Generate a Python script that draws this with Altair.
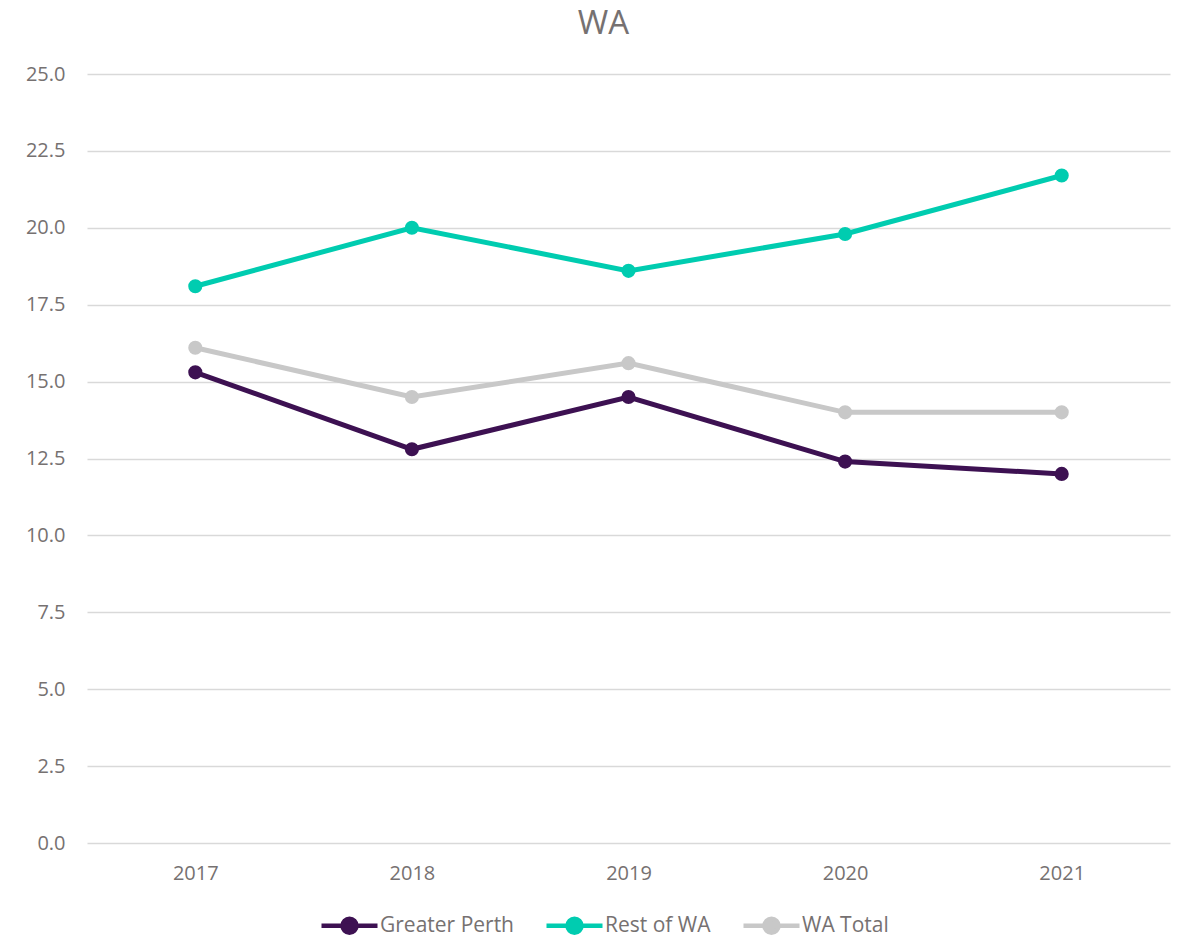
import altair as alt
import pandas as pd

years = ["2017", "2018", "2019", "2020", "2021"]
greater_perth = [15.3, 12.8, 14.5, 12.4, 12.0]
rest_of_wa = [18.1, 20.0, 18.6, 19.8, 21.7]
wa_total = [16.1, 14.5, 15.6, 14.0, 14.0]
series_names = ["Greater Perth", "Rest of WA", "WA Total"]
series_colors = ["#3D1152", "#00CCB0", "#C8C8C8"]
y_ticks = [0, 2.5, 5, 7.5, 10, 12.5, 15, 17.5, 20, 22.5, 25]

rows = []
for name, vals in zip(series_names, [greater_perth, rest_of_wa, wa_total]):
    for yr, v in zip(years, vals):
        rows.append({"Year": yr, "Value": v, "Series": name})
df = pd.DataFrame(rows)

TEXT = "#767171"
FONT = "Open Sans"

legend_path = "M-1,0L1,0M-0.25,0A0.25,0.25,0,1,1,0.25,0A0.25,0.25,0,1,1,-0.25,0Z"

color = alt.Color(
    "Series:N",
    scale=alt.Scale(domain=series_names, range=series_colors),
    legend=alt.Legend(
        title=None,
        orient="none",
        legendX=232,
        legendY=821,
        direction="horizontal",
        symbolType=legend_path,
        symbolSize=3136,
        symbolStrokeWidth=4.5,
        labelFontSize=21,
        labelFont=FONT,
        labelColor=TEXT,
        labelOffset=0,
        columnPadding=23,
    ),
)

x = alt.X(
    "Year:O",
    sort=years,
    title=None,
    scale=alt.Scale(padding=0.5),
    axis=alt.Axis(labelAngle=0, ticks=False, domain=False, grid=False,
                  labelFontSize=20, labelFont=FONT, labelColor=TEXT,
                  labelPadding=20),
)
y = alt.Y(
    "Value:Q",
    title=None,
    scale=alt.Scale(domain=[0, 25], nice=False),
    axis=alt.Axis(values=y_ticks, format=".1f", ticks=False, domain=False,
                  grid=True, gridColor="#D9D9D9", gridWidth=1.5,
                  labelFontSize=20, labelFont=FONT, labelColor=TEXT,
                  labelPadding=22),
)

base = alt.Chart(df)
lines = base.mark_line(strokeWidth=5).encode(x=x, y=y, color=color, detail="Series:N")
points = base.mark_point(filled=True, size=200, opacity=1).encode(x=x, y=y, color=color)

chart = (lines + points).properties(
    width=1083,
    height=769,
    title=alt.TitleParams("WA", fontSize=33, font=FONT, fontWeight="normal",
                          color=TEXT, anchor="middle", dx=-25, offset=23),
    autosize=alt.AutoSizeParams(type="none"),
    padding={"left": 79, "top": 66, "right": 9, "bottom": 94},
).configure_view(stroke=None)

chart.save("out.html", embed_options={"renderer": "svg", "actions": False})
